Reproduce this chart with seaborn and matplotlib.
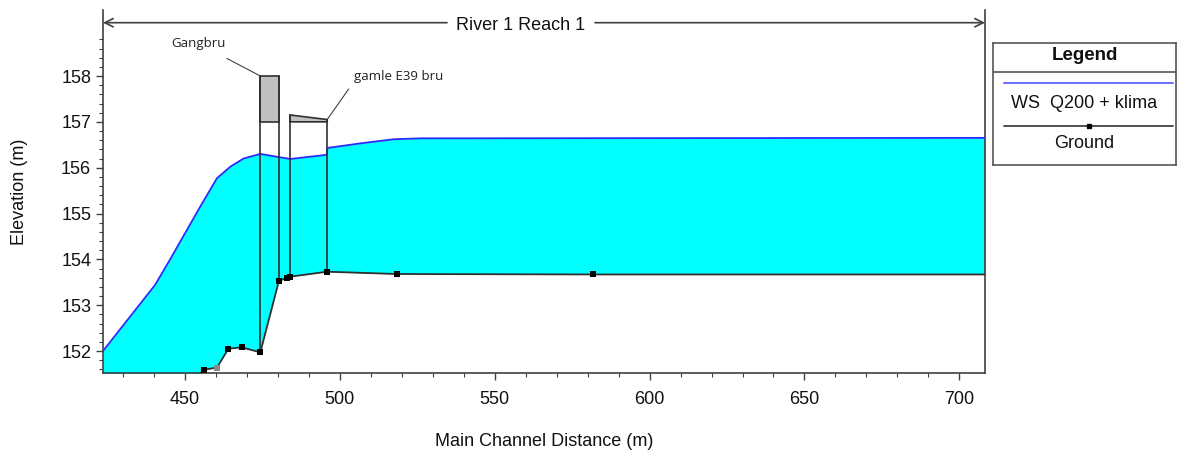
import numpy as np
import pandas as pd
import matplotlib
matplotlib.use("Agg")
import matplotlib.pyplot as plt
from matplotlib.ticker import FixedLocator, MultipleLocator
import seaborn as sns

# ---------------- data ----------------
ws_x = [423.5, 440.3, 445.1, 454.9, 460.3, 464.6, 468.9, 474.3, 480.3, 484.0, 495.7, 496.0,
        506.6, 517.4, 526.1, 708.3]
ws_y = [152.00, 153.44, 153.99, 155.15, 155.77, 156.02, 156.20, 156.30, 156.23, 156.19, 156.28,
        156.43, 156.53, 156.62, 156.64, 156.65]

gr_x = [454.0, 456.1, 460.3, 464.0, 468.3, 474.3, 480.3, 483.0, 483.8, 495.9, 518.3, 581.7, 708.3]
gr_y = [151.45, 151.59, 151.64, 152.05, 152.08, 151.97, 153.53, 153.60, 153.62, 153.73, 153.68,
        153.67, 153.67]

# bridges: (left station, right station, low chord, deck top left, deck top right)
bridge_names = ["Gangbru", "gamle E39 bru"]
bridge_left = [474.3, 483.9]
bridge_right = [480.3, 495.9]
bridge_low = [157.0, 157.0]
bridge_top_left = [158.0, 157.15]
bridge_top_right = [158.0, 157.05]

x_ticks = [450, 500, 550, 600, 650, 700]
y_ticks = [152, 153, 154, 155, 156, 157, 158]
title = "River 1 Reach 1"
ws_label = "WS  Q200 + klima"
gr_label = "Ground"

# ---------------- style ----------------
sns.set_style("white")
plt.rcParams["font.family"] = ["Liberation Sans", "DejaVu Sans"]

W, H = 1180, 450
fig = plt.figure(figsize=(W / 100, H / 100), dpi=100)
L, R, T, B = 103, 985, 10, 373
ax = fig.add_axes([L / W, (H - B) / H, (R - L) / W, (B - T) / H])

xmin, xmax = 423.5, 708.3
ymin, ymax = 151.52, 159.44
ax.set_xlim(xmin, xmax)
ax.set_ylim(ymin, ymax)

ws_df = pd.DataFrame({"x": ws_x, "y": ws_y})
gr_df = pd.DataFrame({"x": gr_x, "y": gr_y})

# water fill between ground and water surface
grid = np.unique(np.concatenate([ws_x, gr_x]))
ws_i = np.interp(grid, ws_x, ws_y)
gr_i = np.interp(grid, gr_x, gr_y)
ax.fill_between(grid, gr_i, ws_i, where=ws_i >= gr_i, color="#00FFFF", lw=0, zorder=1)

sns.lineplot(data=ws_df, x="x", y="y", sort=False, color="#2a2aff", lw=1.3, ax=ax, zorder=3)
sns.lineplot(data=gr_df, x="x", y="y", sort=False, color="#303030", lw=1.3, ax=ax, zorder=4)

mark_idx = [1, 3, 4, 5, 6, 7, 8, 9, 10, 11]
grey_idx = [2]
ax.scatter([gr_x[i] for i in mark_idx], [gr_y[i] for i in mark_idx], marker="s", s=22,
           color="black", zorder=7, linewidths=0)
ax.scatter([gr_x[i] for i in grey_idx], [gr_y[i] for i in grey_idx], marker="s", s=22,
           color="#8a8a8a", zorder=7, linewidths=0)

# bridges
for bl, br, lo, tl, tr in zip(bridge_left, bridge_right, bridge_low, bridge_top_left, bridge_top_right):
    gl = np.interp(bl, gr_x, gr_y)
    grr = np.interp(br, gr_x, gr_y)
    ax.fill([bl, br, br, bl], [lo, lo, tr, tl], facecolor="#c0c0c0", edgecolor="#303030",
            lw=1.2, zorder=6)
    ax.plot([bl, bl], [gl, tl], color="#303030", lw=1.2, zorder=6)
    ax.plot([br, br], [grr, tr], color="#303030", lw=1.2, zorder=6)

# bridge annotations
ann_font = ["Open Sans", "DejaVu Sans"]
ax.annotate(bridge_names[0], xy=(bridge_left[0], bridge_top_left[0]), xytext=(454.3, 158.71),
            ha="center", va="center", fontsize=9.5, family=ann_font, color="#202020",
            arrowprops=dict(arrowstyle="-", color="#404040", lw=0.8, shrinkA=8, shrinkB=0))
ax.annotate(bridge_names[1], xy=(bridge_right[1], bridge_top_right[1]), xytext=(504.4, 157.98),
            ha="left", va="center", fontsize=9.5, family=ann_font, color="#202020",
            arrowprops=dict(arrowstyle="-", color="#404040", lw=0.8, shrinkA=2, shrinkB=0,
                            relpos=(0, 0.1)))

# title arrow
ty = (B - 22.7) / (B - T)
g0 = (447 - L) / (R - L)
g1 = (595 - L) / (R - L)
ax.annotate("", xy=(0.0, ty), xytext=(g0, ty), xycoords="axes fraction", textcoords="axes fraction",
            arrowprops=dict(arrowstyle="->,head_length=0.6,head_width=0.3", color="#404040", lw=1.2,
                            shrinkA=0, shrinkB=0))
ax.annotate("", xy=(1.0, ty), xytext=(g1, ty), xycoords="axes fraction", textcoords="axes fraction",
            arrowprops=dict(arrowstyle="->,head_length=0.6,head_width=0.3", color="#404040", lw=1.2,
                            shrinkA=0, shrinkB=0))
ax.text((g0 + g1) / 2, (B - 25) / (B - T), title, transform=ax.transAxes, ha="center",
        va="center", fontsize=13, color="#111111")

# axes styling
for s in ["left", "right", "bottom"]:
    ax.spines[s].set_visible(True)
    ax.spines[s].set_color("#404040")
    ax.spines[s].set_linewidth(1.2)
ax.spines["top"].set_visible(False)

ax.set_xticks(x_ticks)
ax.set_xticklabels([str(v) for v in x_ticks])
ax.xaxis.set_minor_locator(MultipleLocator(10))
ax.set_yticks(y_ticks)
ax.set_yticklabels([str(v) for v in y_ticks])
ax.yaxis.set_minor_locator(FixedLocator(np.arange(151.6, 158.85, 0.2)))
ax.tick_params(axis="both", which="major", direction="out", length=5, width=1, color="#404040",
               labelsize=13, labelcolor="#111111", bottom=True, left=True)
ax.tick_params(axis="both", which="minor", direction="out", length=3, width=0.8, color="#404040",
               bottom=True, left=True)
ax.tick_params(axis="x", pad=8)
ax.set_xlabel("Main Channel Distance (m)", fontsize=13, color="#111111", labelpad=18)
ax.set_ylabel("Elevation (m)", fontsize=13, color="#111111", labelpad=24)

# legend box (drawn in pixel space)
lx0, ly0, lx1, ly1 = 993, 43, 1176, 165
lax = fig.add_axes([lx0 / W, (H - ly1) / H, (lx1 - lx0) / W, (ly1 - ly0) / H])
lax.set_xlim(0, lx1 - lx0)
lax.set_ylim(ly1 - ly0, 0)
lax.set_xticks([])
lax.set_yticks([])
for s in lax.spines.values():
    s.set_visible(True)
    s.set_color("#555555")
    s.set_linewidth(1.2)
cx = (lx1 - lx0) / 2
lax.text(cx, 12.5, "Legend", ha="center", va="center", fontsize=13.5, fontweight="bold", color="#111111")
lax.axhline(28.7, color="#555555", lw=1.2)
lax.plot([11, 180], [40.3, 40.3], color="#6a6aff", lw=1.4)
lax.text(cx, 60, ws_label, ha="center", va="center", fontsize=13, color="#111111")
lax.plot([11, 180], [82.7, 82.7], color="#404040", lw=1.3)
lax.plot([96], [82.7], marker="s", ms=3.5, color="black")
lax.text(cx, 100.5, gr_label, ha="center", va="center", fontsize=13, color="#111111")

fig.savefig("out.png", dpi=100)
